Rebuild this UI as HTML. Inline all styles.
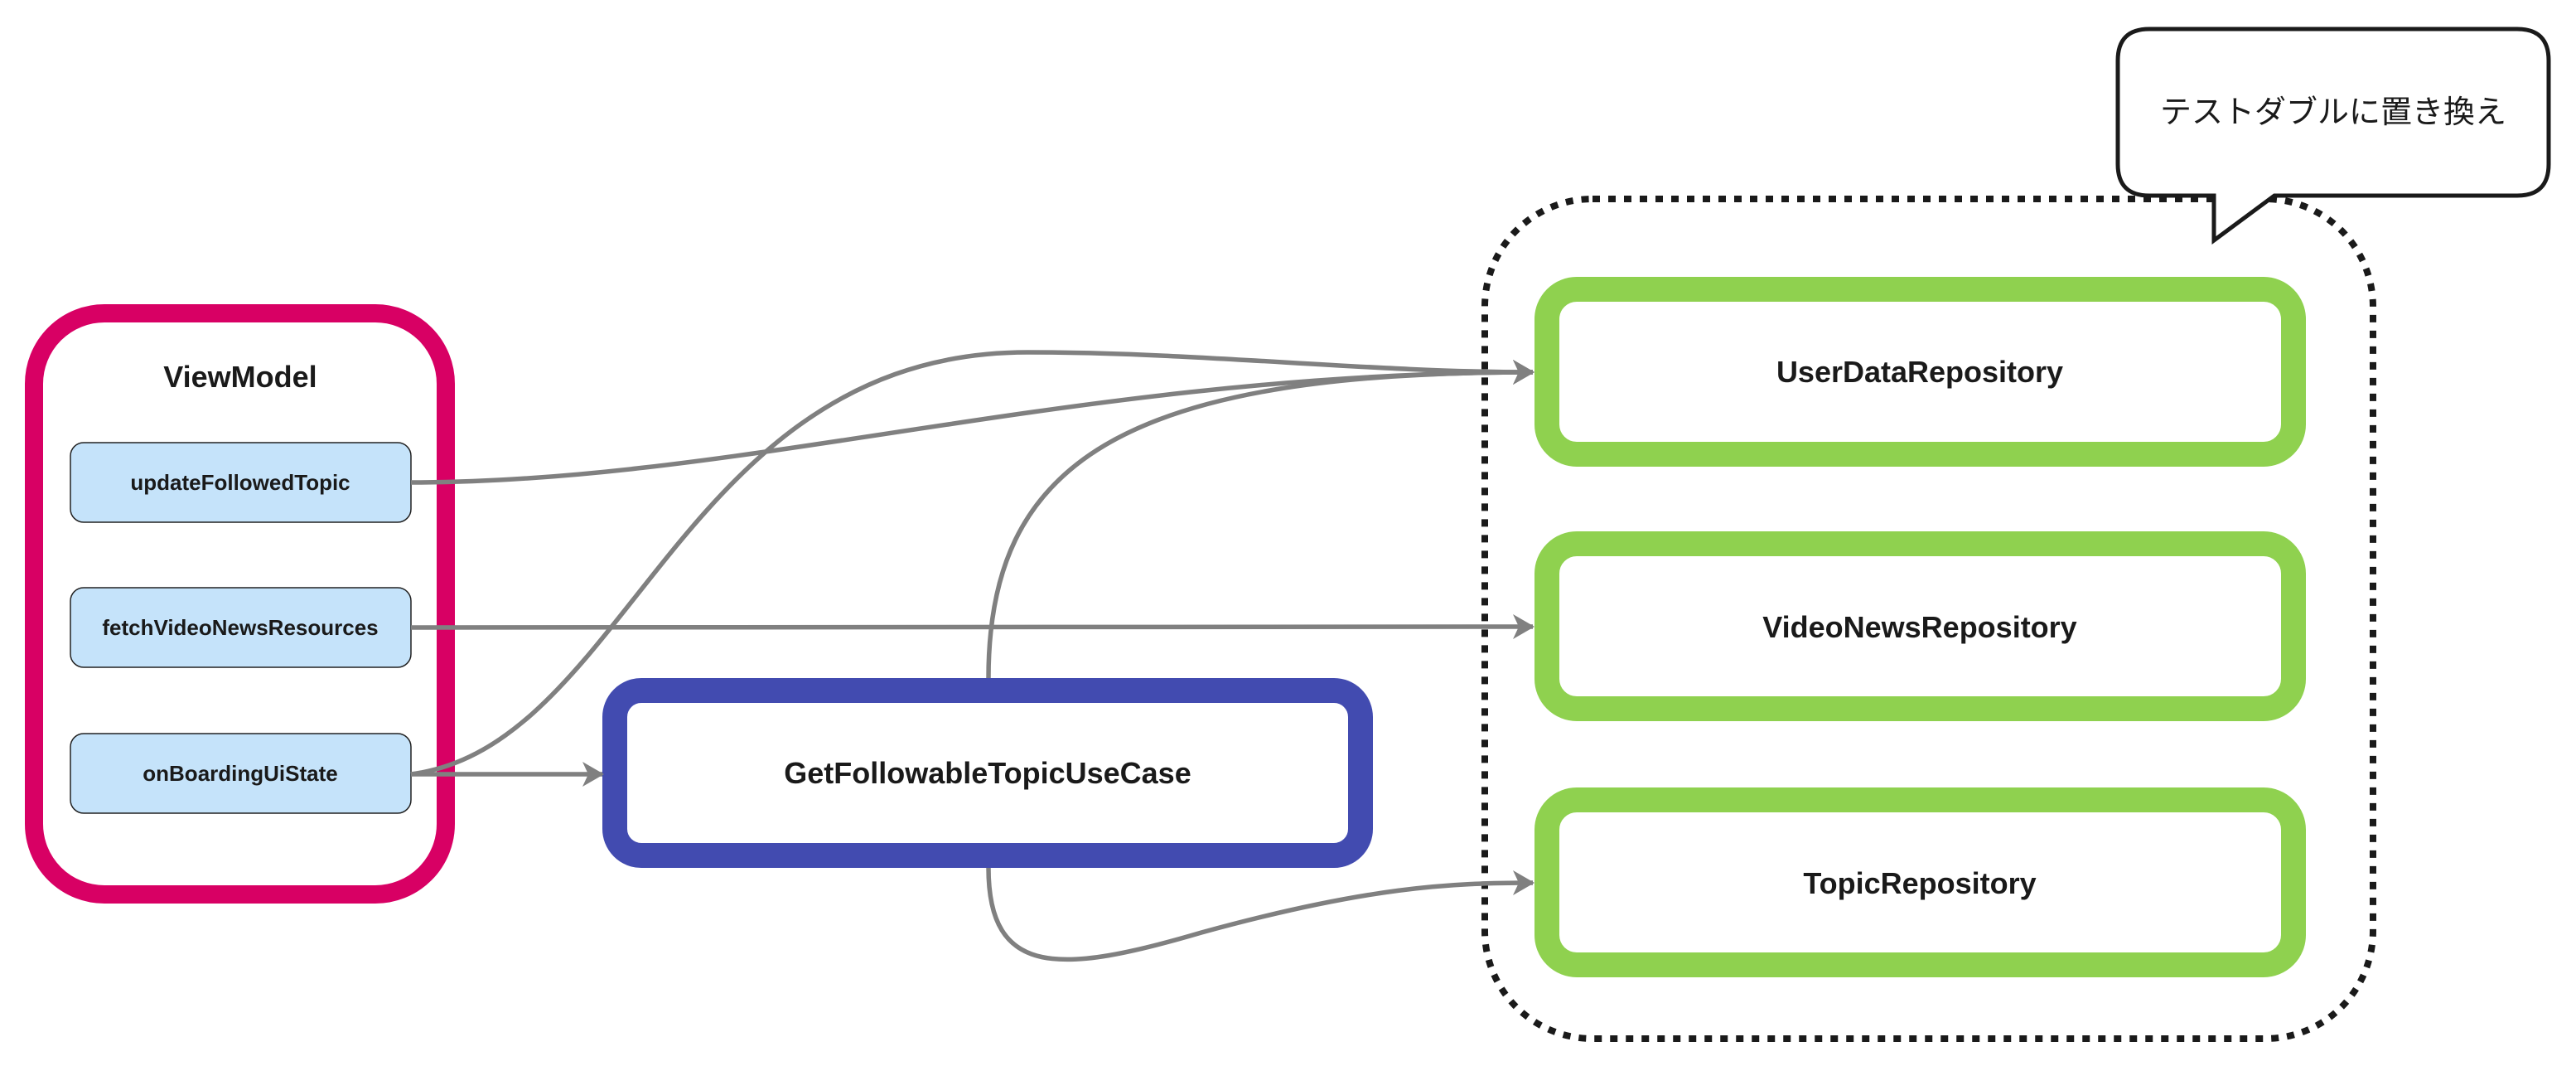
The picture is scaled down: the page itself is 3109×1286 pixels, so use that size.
<!DOCTYPE html>
<html><head><meta charset="utf-8"><style>
html,body{margin:0;padding:0;background:#fff;}
svg{display:block;}
text{font-family:"Liberation Sans","Noto Sans CJK JP",sans-serif;}
</style></head><body>
<svg width="3109" height="1286" viewBox="0 0 3109 1286" xmlns="http://www.w3.org/2000/svg">
<defs>
<marker id="ar" viewBox="0 0 26 30" refX="24" refY="15" markerWidth="26" markerHeight="30" markerUnits="userSpaceOnUse" orient="auto">
<path d="M0,0 L26,15 L0,30 L7,15 Z" fill="#808080"/>
</marker>
</defs>
<rect x="1792" y="240" width="1072" height="1013" rx="130" ry="130" fill="none" stroke="#1a1a1a" stroke-width="8" stroke-dasharray="9 10"/>
<path d="M2594,35 H3038 Q3076,35 3076,73 V198 Q3076,236 3038,236 H2745 L2672,290 V236 H2594 Q2556,236 2556,198 V73 Q2556,35 2594,35 Z" fill="#fff" stroke="#1a1a1a" stroke-width="5"/>
<text x="2816" y="148" font-size="38" text-anchor="middle" fill="#1a1a1a">テストダブルに置き換え</text>
<rect x="41" y="378" width="497" height="701" rx="85" ry="85" fill="#fff" stroke="#d80064" stroke-width="22"/>
<text x="290" y="467" font-size="36" font-weight="bold" text-anchor="middle" fill="#1a1a1a">ViewModel</text>
<g fill="#c5e3fa" stroke="#222" stroke-width="1.5">
<rect x="85" y="534" width="411" height="96" rx="16"/>
<rect x="85" y="709" width="411" height="96" rx="16"/>
<rect x="85" y="885" width="411" height="96" rx="16"/>
</g>
<g font-size="26" font-weight="bold" text-anchor="middle" fill="#1a1a1a">
<text x="290" y="591">updateFollowedTopic</text>
<text x="290" y="766">fetchVideoNewsResources</text>
<text x="290" y="942">onBoardingUiState</text>
</g>
<rect x="742" y="833" width="900" height="199" rx="32" fill="#fff" stroke="#424bb0" stroke-width="30"/>
<text x="1192" y="945" font-size="36" font-weight="bold" text-anchor="middle" fill="#1a1a1a">GetFollowableTopicUseCase</text>
<g fill="#fff" stroke="#8fd14f" stroke-width="30">
<rect x="1867" y="349" width="901" height="199" rx="36"/>
<rect x="1867" y="656" width="901" height="199" rx="36"/>
<rect x="1867" y="965" width="901" height="199" rx="36"/>
</g>
<g font-size="36" font-weight="bold" text-anchor="middle" fill="#1a1a1a">
<text x="2317" y="461">UserDataRepository</text>
<text x="2317" y="769">VideoNewsRepository</text>
<text x="2317" y="1078">TopicRepository</text>
</g>
<g fill="none" stroke="#808080" stroke-width="5.5">
<path d="M496,582 C900,582 1300,450 1850,449" marker-end="url(#ar)"/>
<path d="M496,757 L1850,756" marker-end="url(#ar)"/>
<path d="M496,934 C760,900 820,425 1240,425 C1450,425 1650,449 1850,449" marker-end="url(#ar)"/>
<path d="M496,934 L727,934" marker-end="url(#ar)"/>
<path d="M1193,818 C1193,560 1350,449 1850,449" marker-end="url(#ar)"/>
<path d="M1193,1047 C1193,1180 1280,1175 1450,1125 C1650,1070 1750,1065 1850,1065" marker-end="url(#ar)"/>
</g>
</svg>
</body></html>
